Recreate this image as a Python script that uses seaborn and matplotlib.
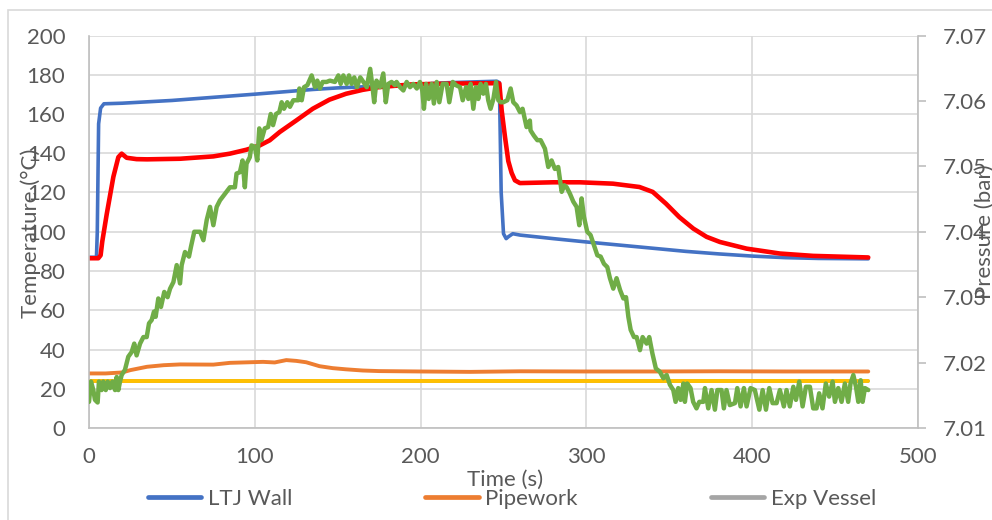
import matplotlib
matplotlib.use("Agg")
import matplotlib.pyplot as plt
from matplotlib.lines import Line2D
from matplotlib.patches import Rectangle
import seaborn as sns
import numpy as np
import pandas as pd

# ---------------- data ----------------
ltj_t = [0, 4.5, 5.0, 5.8, 7.0, 9.0, 20, 50, 100, 135, 150, 175, 200, 215, 230, 246,
         247.5, 248.6, 250.0, 251.6, 253.0, 255.6, 260, 280, 300, 320, 340, 360, 380,
         400, 420, 440, 470]
ltj_v = [87, 87, 100, 155, 163, 165.2, 165.5, 166.9, 170.1, 172.5, 173.3, 174.2, 175.2,
         175.9, 176.3, 176.7, 176.0, 120, 99, 96.5, 97.5, 99, 98.3, 96.5, 94.8, 93.2,
         91.6, 90.0, 88.7, 87.6, 86.8, 86.4, 86.2]

pipe_t = [0, 10, 20, 25, 35, 45, 55, 75, 85, 105, 112, 119, 125, 131, 139, 147, 155,
          165, 175, 200, 230, 260, 300, 340, 380, 420, 470]
pipe_v = [27.8, 27.8, 28.3, 29.5, 31.2, 32.0, 32.4, 32.3, 33.2, 33.7, 33.4, 34.6, 34.2,
          33.5, 31.5, 30.5, 29.9, 29.3, 29.0, 28.8, 28.6, 28.9, 28.8, 28.8, 28.9, 28.8, 28.8]

vessel_t = [0, 470]
vessel_v = [23.7, 23.7]

yellow_t = [0, 470]
yellow_v = [23.7, 23.7]

red_t = [0, 5.6, 7.0, 8.0, 10.7, 14.7, 17.7, 19.7, 22.7, 28.7, 35, 55, 75, 85, 95, 103,
         109, 115, 125, 135, 145, 155, 165, 175, 195, 220, 246, 247.5, 248.9, 250.9,
         252.9, 254.9, 256.9, 259.9, 280, 296, 316, 332, 340, 348, 356, 364.5, 372.5,
         380.5, 396.6, 416.7, 436.8, 470]
red_v = [86.5, 86.5, 88, 95, 109, 128, 138, 139.8, 137.7, 137.0, 136.9, 137.2, 138.4,
         139.8, 141.8, 144.0, 146.6, 150.8, 156.7, 162.7, 167.3, 170.3, 172.3, 173.7,
         175.1, 175.5, 175.7, 175.5, 161.8, 148.3, 136, 130, 126.2, 124.8, 125.2, 125.2,
         124.5, 122.8, 120.3, 114.3, 107.5, 101.6, 97.4, 94.8, 91.4, 88.9, 87.7, 86.9]

pres_t = [0.0, 1.2, 2.6, 3.6, 5.2, 6.0, 7.6, 8.6, 10.1, 11.3, 12.7, 14.1, 15.7, 16.7,
          17.7, 18.7, 19.7, 21.7, 23.7, 25.7, 27.3, 28.7, 30.8, 32.8, 34.8, 36.2, 37.8,
          39.2, 40.2, 41.8, 43.4, 45.4, 47.4, 48.9, 50.9, 52.9, 54.9, 55.9, 57.9, 60.3,
          61.5, 63.5, 67.0, 69.0, 71.0, 73.0, 75.0, 77.0, 79.0,
          85.0, 88.0, 89.0, 91.0, 92.6, 94.0, 95.0, 97.0, 98.0, 100.0, 101.5, 102.7,
          104.0, 106.0, 108.0, 109.6, 111.0, 112.8, 114.8, 116.2, 117.6, 119.6, 121.2,
          123.2, 126.2, 126.9, 128.3, 129.7, 131.7, 134.3, 136.3, 137.7, 139.3, 140.9,
          143.3, 145.3, 148.3, 150.4, 151.8, 153.4, 155.4, 156.8, 158.4, 160.0, 161.6,
          163.6, 165.5, 167.5, 169.6, 171.0, 172.0, 173.4, 175.5, 177.5, 179.0, 180.5,
          182.5, 184.5,
          185.5, 187.6, 189.6, 191.6, 193.6, 195.6, 197.7, 199.6, 201.0, 202.0, 203.3,
          204.9, 206.7, 208.0, 209.7, 211.3, 213.3, 215.7, 217.3, 219.4, 221.4, 223.8,
          225.4, 227.4, 228.8, 230.2, 231.8, 233.4, 234.8, 236.2, 237.8, 239.4, 240.8,
          242.2, 243.9, 245.5, 246.9, 248.3, 249.9, 252.3, 254.3, 255.9, 257.9, 259.9,
          261.5, 263.9, 265.9,
          266.3, 268.3, 270.4, 272.4, 275.0, 277.0, 279.0, 281.0, 283.0, 285.1, 286.7,
          288.1, 290.1, 292.1, 294.1, 295.7, 297.1, 298.5, 300.5, 302.5, 304.6, 306.6,
          308.6, 310.6, 312.6, 314.2, 316.2, 318.2, 320.3, 322.3, 323.9, 325.3, 326.7,
          328.7, 330.3, 332.3, 333.9, 336.3, 337.9, 339.8, 341.9, 344.3, 346.4, 348.4,
          350.4, 352.4, 353.8, 355.4, 356.8,
          358.5, 359.4, 360.8, 362.8, 364.4, 366.4, 368.1, 370.5, 371.5, 373.5, 375.5,
          377.5, 379.0, 381.5, 382.9, 384.5, 386.5, 389.6, 391.0, 393.0, 395.0, 396.6,
          399.0, 401.6, 404.3, 406.3, 408.3, 410.3, 412.3, 414.7, 416.7, 419.1, 420.7,
          422.7, 424.8, 426.4, 428.4, 430.4, 432.4, 434.8, 436.8, 438.8, 440.4, 442.4,
          444.4, 446.4, 448.5, 449.9, 451.9, 453.9, 455.9, 457.9, 459.3, 461.0, 462.6,
          464.0, 465.4, 466.6, 468.0, 470.0]
pres_v = [7.0140, 7.0171, 7.0158, 7.0143, 7.0139, 7.0171, 7.0158, 7.0171, 7.0158, 7.0171,
          7.0161, 7.0171, 7.0158, 7.0178, 7.0158, 7.0171, 7.0181, 7.0189, 7.0209, 7.0216,
          7.0229, 7.0211, 7.0229, 7.0239, 7.0239, 7.0260, 7.0265, 7.0278, 7.0270, 7.0298,
          7.0285, 7.0308, 7.0300, 7.0313, 7.0323, 7.0349, 7.0321, 7.0349, 7.0369, 7.0362,
          7.0377, 7.0400, 7.0400, 7.0387, 7.0418, 7.0438, 7.0410, 7.0438, 7.0448,
          7.0468, 7.0468, 7.0489, 7.0491, 7.0509, 7.0468, 7.0504, 7.0514, 7.0532, 7.0530,
          7.0509, 7.0558, 7.0540, 7.0558, 7.0560, 7.0580, 7.0563, 7.0580, 7.0583, 7.0598,
          7.0588, 7.0598, 7.0591, 7.0601, 7.0601, 7.0619, 7.0601, 7.0621, 7.0624, 7.0639,
          7.0621, 7.0631, 7.0619, 7.0629, 7.0629, 7.0631, 7.0629, 7.0639, 7.0626, 7.0639,
          7.0626, 7.0639, 7.0626, 7.0636, 7.0621, 7.0636, 7.0629, 7.0621, 7.0649, 7.0621,
          7.0598, 7.0631, 7.0621, 7.0642, 7.0598, 7.0626, 7.0629, 7.0624,
          7.0629, 7.0621, 7.0616, 7.0629, 7.0621, 7.0626, 7.0619, 7.0629, 7.0616, 7.0588,
          7.0626, 7.0603, 7.0626, 7.0596, 7.0629, 7.0598, 7.0626, 7.0626, 7.0598, 7.0629,
          7.0624, 7.0621, 7.0601, 7.0621, 7.0603, 7.0626, 7.0588, 7.0621, 7.0603, 7.0626,
          7.0611, 7.0626, 7.0601, 7.0588, 7.0603, 7.0629, 7.0601, 7.0598, 7.0598, 7.0601,
          7.0619, 7.0598, 7.0593, 7.0583, 7.0588, 7.0560, 7.0570,
          7.0555, 7.0547, 7.0540, 7.0540, 7.0527, 7.0499, 7.0509, 7.0496, 7.0499, 7.0461,
          7.0471, 7.0468, 7.0458, 7.0446, 7.0438, 7.0410, 7.0451, 7.0423, 7.0400, 7.0395,
          7.0379, 7.0364, 7.0362, 7.0351, 7.0346, 7.0329, 7.0313, 7.0329, 7.0311, 7.0298,
          7.0300, 7.0270, 7.0250, 7.0239, 7.0239, 7.0219, 7.0239, 7.0229, 7.0239, 7.0214,
          7.0191, 7.0186, 7.0176, 7.0181, 7.0166, 7.0158, 7.0140, 7.0161, 7.0143,
          7.0168, 7.0140, 7.0168, 7.0161, 7.0140, 7.0130, 7.0140, 7.0140, 7.0161, 7.0130,
          7.0158, 7.0128, 7.0158, 7.0158, 7.0130, 7.0158, 7.0135, 7.0138, 7.0161, 7.0133,
          7.0161, 7.0133, 7.0161, 7.0158, 7.0128, 7.0158, 7.0128, 7.0161, 7.0138, 7.0138,
          7.0158, 7.0133, 7.0158, 7.0133, 7.0163, 7.0143, 7.0171, 7.0133, 7.0163, 7.0163,
          7.0130, 7.0130, 7.0153, 7.0130, 7.0168, 7.0148, 7.0171, 7.0140, 7.0161, 7.0140,
          7.0168, 7.0140, 7.0168, 7.0181, 7.0163, 7.0140, 7.0173, 7.0140, 7.0161, 7.0158]

x_ticks = [0, 100, 200, 300, 400, 500]
y_ticks = [0, 20, 40, 60, 80, 100, 120, 140, 160, 180, 200]
p_ticks = [7.01, 7.02, 7.03, 7.04, 7.05, 7.06, 7.07]
legend_labels = ["LTJ Wall", "Pipework", "Exp Vessel"]

# ---------------- style ----------------
sns.set_theme(style="white")
plt.rcParams["font.family"] = ["Lato", "DejaVu Sans"]
TXT = "#595959"
GRID = "#d9d9d9"
SPINE = "#bfbfbf"
FS = 16

C_BLUE = "#4472C4"
C_ORANGE = "#ED7D31"
C_GRAY = "#A5A5A5"
C_YELLOW = "#FFC000"
C_RED = "#FF0000"
C_GREEN = "#70AD47"

fig = plt.figure(figsize=(9.92, 5.2), dpi=100)
fig.patch.set_facecolor("white")
fig.patches.append(Rectangle((8 / 992, -0.05), 1.2, 1 - 10 / 520 + 0.05,
                             transform=fig.transFigure, fill=False,
                             edgecolor=GRID, lw=1.2, zorder=0))

ax = fig.add_axes([89 / 992, 1 - 428 / 520, (918 - 89) / 992, (428 - 35.5) / 520])
ax.set_facecolor("none")

sns.lineplot(x=ltj_t, y=ltj_v, ax=ax, color=C_BLUE, lw=2.6, sort=False, estimator=None)
sns.lineplot(x=pipe_t, y=pipe_v, ax=ax, color=C_ORANGE, lw=2.8, sort=False, estimator=None)
sns.lineplot(x=vessel_t, y=vessel_v, ax=ax, color=C_GRAY, lw=2.8, sort=False, estimator=None)
sns.lineplot(x=yellow_t, y=yellow_v, ax=ax, color=C_YELLOW, lw=2.8, sort=False, estimator=None)
sns.lineplot(x=red_t, y=red_v, ax=ax, color=C_RED, lw=3.3, sort=False, estimator=None)

ax.set_xlim(0, 500)
ax.set_ylim(0, 200)
ax.set_xticks(x_ticks)
ax.set_yticks(y_ticks)
ax.grid(True, color=GRID, lw=1.2)
ax.set_axisbelow(True)
for s in ["top", "right"]:
    ax.spines[s].set_visible(False)
for s in ["left", "bottom"]:
    ax.spines[s].set_color(SPINE)
    ax.spines[s].set_linewidth(1.2)
ax.tick_params(axis="both", length=0, labelsize=FS, labelcolor=TXT)
ax.tick_params(axis="y", pad=17)
ax.tick_params(axis="x", pad=14)
ax.set_xlabel("")
ax.set_ylabel("")

ax2 = ax.twinx()
sns.lineplot(x=pres_t, y=pres_v, ax=ax2, color=C_GREEN, lw=3.2, sort=False, estimator=None)
ax2.set_ylim(7.01, 7.07)
ax2.set_yticks(p_ticks)
ax2.set_yticklabels([f"{p:.2f}" for p in p_ticks])
ax2.set_ylabel("")
for s in ["top", "left", "bottom"]:
    ax2.spines[s].set_visible(False)
ax2.spines["right"].set_color(SPINE)
ax2.spines["right"].set_linewidth(1.2)
ax2.tick_params(axis="y", length=6, width=1.2, color=SPINE, labelsize=FS,
                labelcolor=TXT, pad=12, direction="out")

fig.text(505 / 992, 1 - 480 / 520, "Time (s)", ha="center", va="center",
         fontsize=FS, color=TXT)
fig.text(31 / 992, 1 - 233 / 520, "Temperature (°C)", ha="center", va="center",
         rotation=90, fontsize=FS, color=TXT)
fig.text(985 / 992, 1 - 232 / 520, "Pressure (bar)", ha="center", va="center",
         rotation=90, fontsize=FS, color=TXT)

handles = [Line2D([0], [0], color=c, lw=3.4, solid_capstyle="round")
           for c in (C_BLUE, C_ORANGE, C_GRAY)]
fig.legend(handles, legend_labels, loc="center", bbox_to_anchor=(512 / 992, 1 - 499 / 520),
           ncol=3, frameon=False, fontsize=FS, labelcolor=TXT, handlelength=2.4,
           handletextpad=0.3, columnspacing=6.0, borderpad=0)

fig.savefig("out.png", dpi=100, facecolor="white")
